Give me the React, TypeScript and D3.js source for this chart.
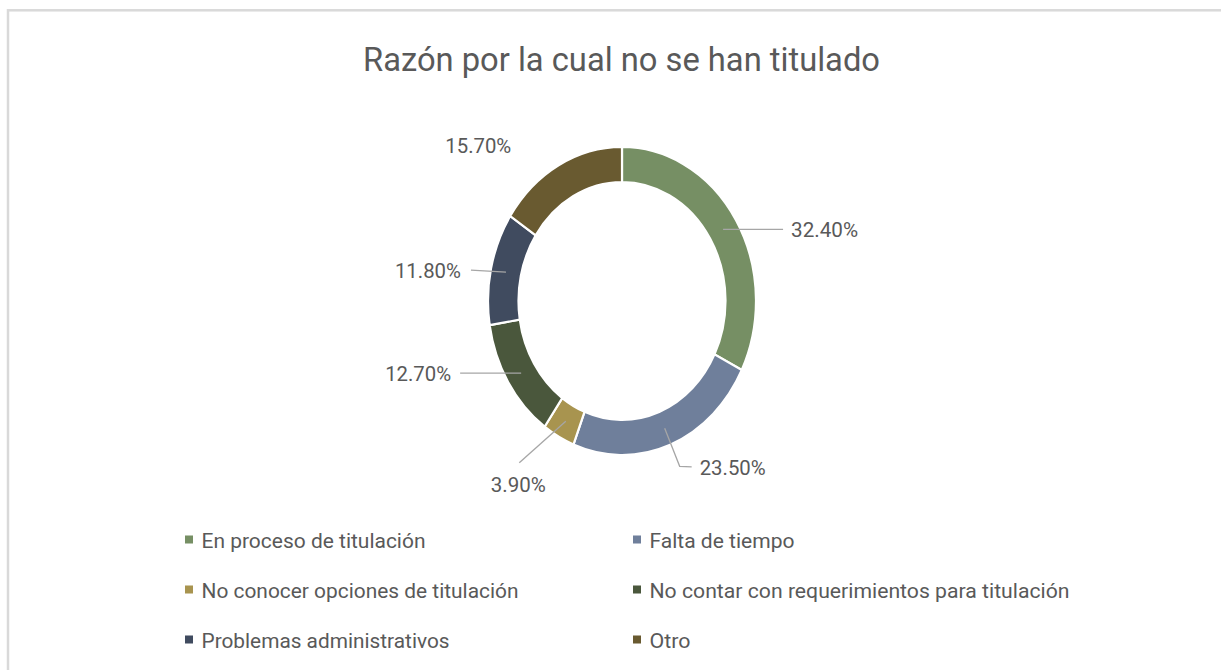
import React from "react";
import * as d3 from "d3";

const title = "Razón por la cual no se han titulado";
const categories = [
  "En proceso de titulación",
  "Falta de tiempo",
  "No conocer opciones de titulación",
  "No contar con requerimientos para titulación",
  "Problemas administrativos",
  "Otro",
];
const values = [32.4, 23.5, 3.9, 12.7, 11.8, 15.7];
const valueLabels = ["32.40%", "23.50%", "3.90%", "12.70%", "11.80%", "15.70%"];

// styles / layout (kept separate from data)
const colors = ["#768F64", "#6F7F9B", "#A8944F", "#4A573C", "#404B5F", "#695A30"];
const W = 1221;
const H = 670;
const cx = 622;
const cy = 301;
const rOuter = 134;
const rInner = 103.5;
const yScale = 154 / 134;
const textColor = "#595959";
const font = "Roboto, 'Open Sans', sans-serif";

// leader-line routing relative to the slice centroid: points, then text placement
type LabelLayout = { pts: [number, number][]; tx: number; ty: number; anchor: "start" | "end" | "middle"; w: number };
const labelLayout: LabelLayout[] = [
  { pts: [[60, 0]], tx: 68, ty: 0, anchor: "start", w: 67 },
  { pts: [[15, 38], [27, 38.5]], tx: 35, ty: 39.5, anchor: "start", w: 66 },
  { pts: [[-46.5, 41.5]], tx: -47.5, ty: 63.5, anchor: "middle", w: 55 },
  { pts: [[-61, 0]], tx: -70, ty: 0, anchor: "end", w: 66 },
  { pts: [[-35, -2]], tx: -45, ty: -2, anchor: "end", w: 66 },
  { pts: [], tx: -87.5, ty: -35.5, anchor: "middle", w: 66 },
];
const legendTextWidths = [224, 145, 317, 420, 248, 41];

export default function App() {
  const pie = d3.pie<number>().sort(null).value((d) => d);
  const arcs = pie(values);
  const arcGen = d3.arc<d3.PieArcDatum<number>>().innerRadius(rInner).outerRadius(rOuter);

  const legendX = [185, 633];
  const legendY = d3.scalePoint<number>().domain([0, 1, 2]).range([540, 640]);

  return (
    <svg width={W} height={H} style={{ position: "absolute", left: 0, top: 0, background: "#fff" }}>
      <rect x={0} y={0} width={W} height={H} fill="#fff" />
      <rect x={8} y={10.3} width={W + 50} height={H + 50} fill="none" stroke="#D9D9D9" strokeWidth={2.5} />
      <text
        x={621.5}
        y={71}
        textAnchor="middle"
        fontFamily={font}
        fontSize={34}
        fill={textColor}
        textLength={517}
        lengthAdjust="spacingAndGlyphs"
      >
        {title}
      </text>
      <g transform={`translate(${cx},${cy}) scale(1,${yScale})`}>
        {arcs.map((a, i) => (
          <path
            key={i}
            d={arcGen(a) || ""}
            fill={colors[i]}
            stroke="#fff"
            strokeWidth={2.2}
            vectorEffect="non-scaling-stroke"
          />
        ))}
      </g>
      {arcs.map((a, i) => {
        const [mx, my] = arcGen.centroid(a);
        const px = cx + mx;
        const py = cy + my * yScale;
        const L = labelLayout[i];
        const pts: [number, number][] = [[px, py], ...L.pts.map(([dx, dy]) => [px + dx, py + dy] as [number, number])];
        const line = d3.line()(pts);
        return (
          <g key={i}>
            {L.pts.length > 0 && (
              <path d={line || ""} fill="none" stroke="#A6A6A6" strokeWidth={1.3} />
            )}
            <text
              x={px + L.tx}
              y={py + L.ty}
              dy="0.36em"
              textAnchor={L.anchor}
              fontFamily={font}
              fontSize={21}
              fill={textColor}
              textLength={L.w}
              lengthAdjust="spacingAndGlyphs"
            >
              {valueLabels[i]}
            </text>
          </g>
        );
      })}
      {categories.map((c, i) => {
        const col = i % 2;
        const row = Math.floor(i / 2);
        const x = legendX[col];
        const y = legendY(row) as number;
        return (
          <g key={c}>
            <rect x={x} y={y - 4.5} width={8} height={8} fill={colors[i]} />
            <text
              x={x + 16.5}
              y={y}
              dy="0.36em"
              fontFamily={font}
              fontSize={21}
              fill={textColor}
              textLength={legendTextWidths[i]}
              lengthAdjust="spacingAndGlyphs"
            >
              {c}
            </text>
          </g>
        );
      })}
    </svg>
  );
}
